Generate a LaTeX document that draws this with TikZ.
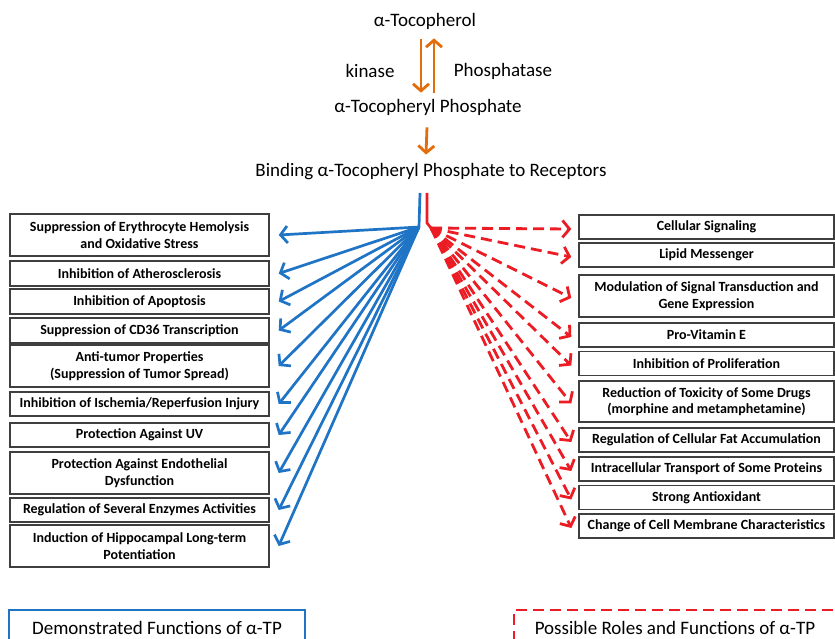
\documentclass[tikz,border=0pt]{standalone}
\usepackage{fontspec}
\setmainfont{Carlito}
\usetikzlibrary{arrows.meta}
\definecolor{bl}{HTML}{1F74C6}
\definecolor{rd}{HTML}{EC1C24}
\definecolor{og}{HTML}{E46C0A}
\definecolor{bd}{HTML}{3F3F3F}
\begin{document}
\begin{tikzpicture}[x=1pt,y=-1pt,
  fbox/.style={draw=bd,line width=1.4pt,align=center,inner sep=0pt,
    font=\fontsize{14}{16.5}\selectfont\bfseries},
  lbox/.style={fbox,minimum width=259pt},
  rbox/.style={fbox,minimum width=255pt},
  toptext/.style={font=\fontsize{19}{22}\selectfont,inner sep=0pt},
  legtext/.style={font=\fontsize{19}{22}\selectfont,inner sep=0pt},
  oarrow/.style={draw=og,line width=2.8pt,-{Straight Barb[length=7pt,width=16pt]}},
  barrow/.style={draw=bl,line width=2.7pt,-{Straight Barb[length=7pt,width=17pt]}},
  rarrow/.style={draw=rd,line width=2.8pt,dash pattern=on 11pt off 6pt,-{Straight Barb[length=7pt,width=17pt]}},
]
\useasboundingbox (0,0) rectangle (835,639);
\fill[white] (0,0) rectangle (835,639);

% top chain
\node[toptext] (toc) at (425,21) {α-Tocopherol};
\node[toptext] (kin) at (370,71) {kinase};
\node[toptext] (pho) at (503,71) {Phosphatase};
\node[toptext] (tp) at (428,107) {α-Tocopheryl Phosphate};
\node[toptext] (bind) at (431,172) {Binding α-Tocopheryl Phosphate to Receptors};

\draw[oarrow] ([xshift=-4pt,yshift=-10pt]toc.south) -- ([xshift=-7pt,yshift=6pt]tp.north);
\draw[oarrow] ([xshift=6pt,yshift=6pt]tp.north) -- ([xshift=9pt,yshift=-9pt]toc.south);
\draw[oarrow] ([xshift=-1pt,yshift=-12pt]tp.south) -- ([xshift=-5pt,yshift=9pt]bind.north);

% left boxes
\node[lbox,minimum height=42pt] (l1) at (139.5,235) {Suppression of Erythrocyte Hemolysis\\and Oxidative Stress};
\node[lbox,minimum height=25pt] (l2) at (139.5,273.5) {Inhibition of Atherosclerosis};
\node[lbox,minimum height=25pt] (l3) at (139.5,301.5) {Inhibition of Apoptosis};
\node[lbox,minimum height=25pt] (l4) at (139.5,330.5) {Suppression of CD36 Transcription};
\node[lbox,minimum height=42pt] (l5) at (139.5,366) {Anti-tumor Properties\\(Suppression of Tumor Spread)};
\node[lbox,minimum height=24pt] (l6) at (139.5,404) {Inhibition of Ischemia/Reperfusion Injury};
\node[lbox,minimum height=24pt] (l7) at (139.5,435) {Protection Against UV};
\node[lbox,minimum height=42pt] (l8) at (139.5,473) {Protection Against Endothelial\\Dysfunction};
\node[lbox,minimum height=24pt] (l9) at (139.5,510) {Regulation of Several Enzymes Activities};
\node[lbox,minimum height=42pt] (l10) at (139.5,546) {Induction of Hippocampal Long-term\\Potentiation};

% right boxes
\node[rbox,minimum height=24pt] (r1) at (706.5,227) {Cellular Signaling};
\node[rbox,minimum height=24pt] (r2) at (706.5,255) {Lipid Messenger};
\node[rbox,minimum height=42pt] (r3) at (706.5,296) {Modulation of Signal Transduction and\\Gene Expression};
\node[rbox,minimum height=24pt] (r4) at (706.5,335) {Pro-Vitamin E};
\node[rbox,minimum height=24pt] (r5) at (706.5,363.5) {Inhibition of Proliferation};
\node[rbox,minimum height=41pt] (r6) at (706.5,401.5) {Reduction of Toxicity of Some Drugs\\(morphine and metamphetamine)};
\node[rbox,minimum height=24pt] (r7) at (706.5,440) {Regulation of Cellular Fat Accumulation};
\node[rbox,minimum height=24pt] (r8) at (706.5,469) {Intracellular Transport of Some Proteins};
\node[rbox,minimum height=24pt] (r9) at (706.5,497.5) {Strong Antioxidant};
\node[rbox,minimum height=24pt] (r10) at (706.5,526) {Change of Cell Membrane Characteristics};

% stems
\coordinate (btop) at (420,193);
\coordinate (bo) at (419,227);
\coordinate (rtop) at (427,193);
\coordinate (rbend) at (427,223);
\coordinate (ro) at (431,228);
\draw[bl,line width=2.7pt] (btop) -- (bo);
\draw[rd,line width=2.7pt] (rtop) -- (rbend) -- (ro);

\foreach \i in {1,...,10}{
  \draw[barrow] (bo) -- ([xshift=9pt]l\i.east);
  \draw[rarrow] (ro) -- ([xshift=-7pt,yshift=-2pt]r\i.west);
}

% legends
\draw[bl,line width=2.4pt] (9,610) rectangle (305,670);
\node[legtext] (leg1) at (157,628) {Demonstrated Functions of α-TP};
\draw[rd,line width=2.7pt,dash pattern=on 11pt off 6pt] (850,610) -- (514,610) -- (514,670);
\node[legtext] (leg2) at (675,628) {Possible Roles and Functions of α-TP};
\end{tikzpicture}
\end{document}
